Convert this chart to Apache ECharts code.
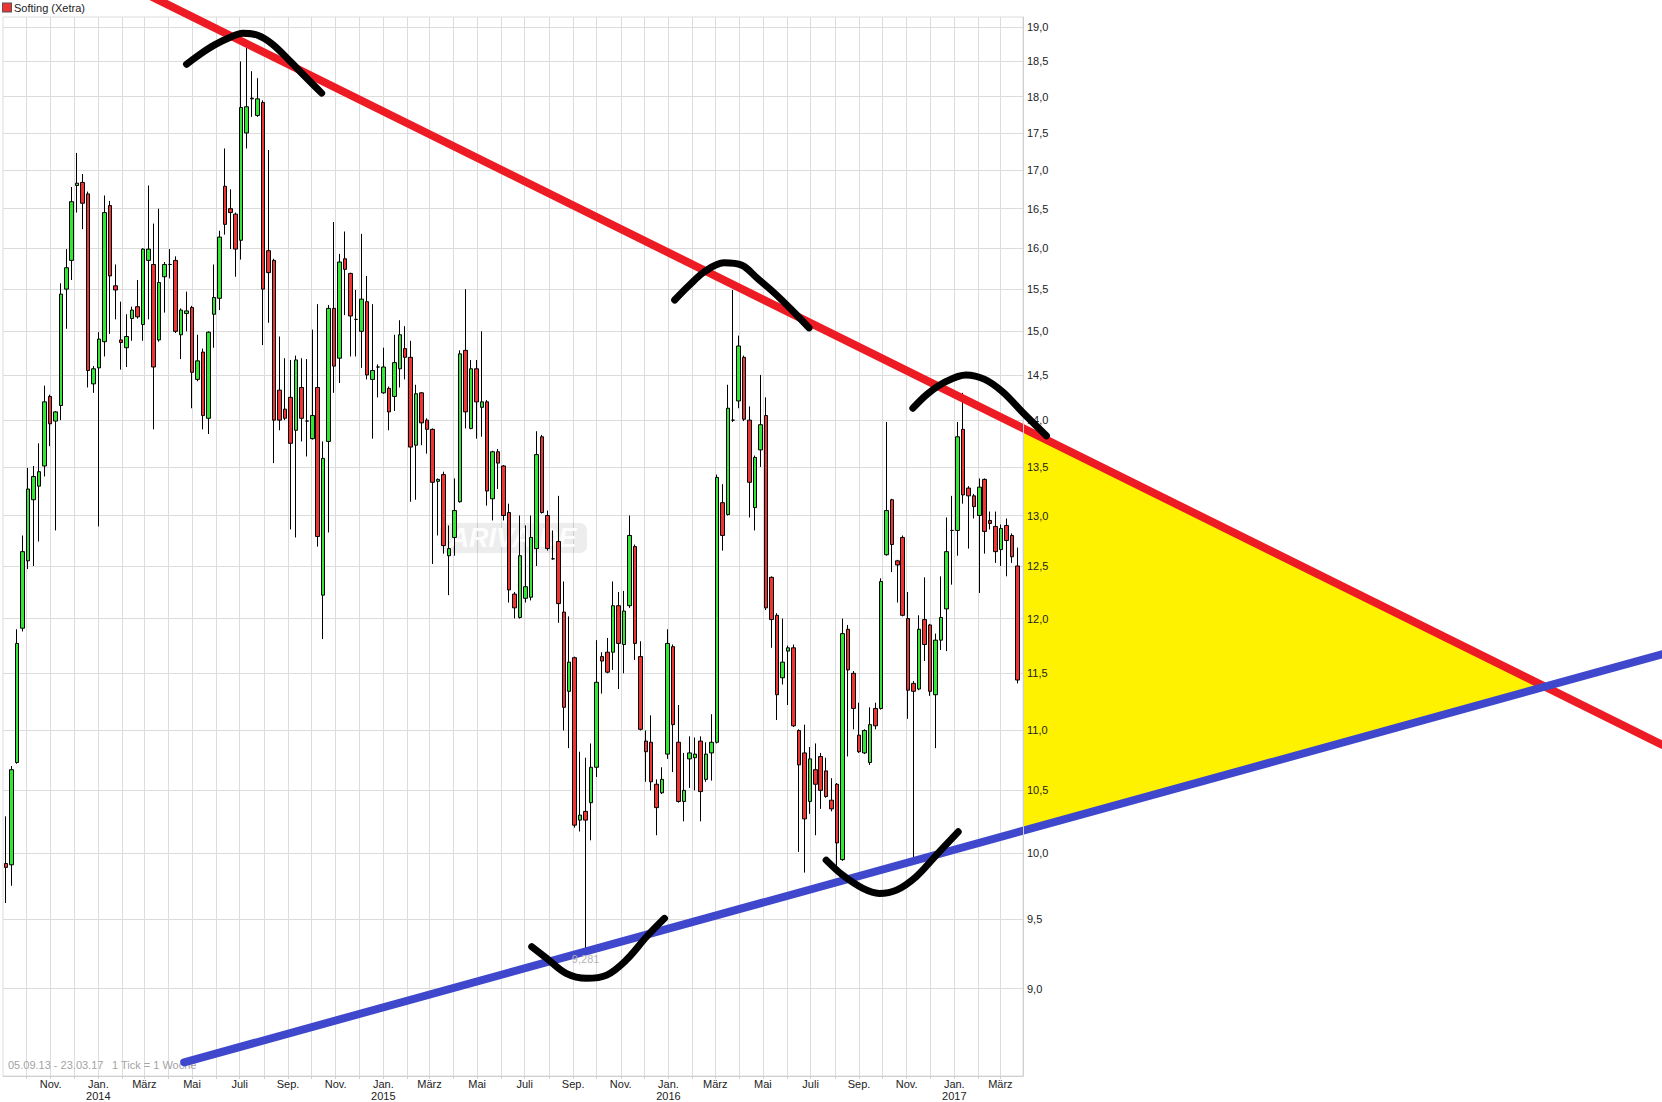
<!DOCTYPE html>
<html><head><meta charset="utf-8">
<script src="https://cdn.jsdelivr.net/npm/echarts@6/dist/echarts.min.js"></script>
<style>html,body{margin:0;padding:0;background:#fff}#c{width:1662px;height:1102px}</style>
</head><body><div id="c"></div>
<script>
// ---- weekly candle dates (1 Tick = 1 Woche) ----
const weekDates = [
'2013-09-05','2013-09-12','2013-09-19','2013-09-26','2013-10-03','2013-10-10','2013-10-17','2013-10-24','2013-10-31','2013-11-07','2013-11-14','2013-11-21','2013-11-28','2013-12-05','2013-12-12','2013-12-19','2013-12-26',
'2014-01-02','2014-01-09','2014-01-16','2014-01-23','2014-01-30','2014-02-06','2014-02-13','2014-02-20','2014-02-27','2014-03-06','2014-03-13','2014-03-20','2014-03-27','2014-04-03','2014-04-10','2014-04-17','2014-04-24','2014-05-01','2014-05-08','2014-05-15','2014-05-22','2014-05-29','2014-06-05','2014-06-12','2014-06-19','2014-06-26','2014-07-03','2014-07-10','2014-07-17','2014-07-24','2014-07-31','2014-08-07','2014-08-14','2014-08-21','2014-08-28','2014-09-04','2014-09-11','2014-09-18','2014-09-25','2014-10-02','2014-10-09','2014-10-16','2014-10-23','2014-10-30','2014-11-06','2014-11-13','2014-11-20','2014-11-27','2014-12-04','2014-12-11','2014-12-18','2014-12-25',
'2015-01-01','2015-01-08','2015-01-15','2015-01-22','2015-01-29','2015-02-05','2015-02-12','2015-02-19','2015-02-26','2015-03-05','2015-03-12','2015-03-19','2015-03-26','2015-04-02','2015-04-09','2015-04-16','2015-04-23','2015-04-30','2015-05-07','2015-05-14','2015-05-21','2015-05-28','2015-06-04','2015-06-11','2015-06-18','2015-06-25','2015-07-02','2015-07-09','2015-07-16','2015-07-23','2015-07-30','2015-08-06','2015-08-13','2015-08-20','2015-08-27','2015-09-03','2015-09-10','2015-09-17','2015-09-24','2015-10-01','2015-10-08','2015-10-15','2015-10-22','2015-10-29','2015-11-05','2015-11-12','2015-11-19','2015-11-26','2015-12-03','2015-12-10','2015-12-17','2015-12-24','2015-12-31',
'2016-01-07','2016-01-14','2016-01-21','2016-01-28','2016-02-04','2016-02-11','2016-02-18','2016-02-25','2016-03-03','2016-03-10','2016-03-17','2016-03-24','2016-03-31','2016-04-07','2016-04-14','2016-04-21','2016-04-28','2016-05-05','2016-05-12','2016-05-19','2016-05-26','2016-06-02','2016-06-09','2016-06-16','2016-06-23','2016-06-30','2016-07-07','2016-07-14','2016-07-21','2016-07-28','2016-08-04','2016-08-11','2016-08-18','2016-08-25','2016-09-01','2016-09-08','2016-09-15','2016-09-22','2016-09-29','2016-10-06','2016-10-13','2016-10-20','2016-10-27','2016-11-03','2016-11-10','2016-11-17','2016-11-24','2016-12-01','2016-12-08','2016-12-15','2016-12-22','2016-12-29',
'2017-01-05','2017-01-12','2017-01-19','2017-01-26','2017-02-02','2017-02-09','2017-02-16','2017-02-23','2017-03-02','2017-03-09','2017-03-16','2017-03-23'];

const openP = [
9.92,9.91,10.73,11.91,12.55,13.16,13.30,13.51,14.26,13.99,
14.16,15.50,15.85,16.80,16.84,16.69,14.40,14.58,14.88,16.54,
15.54,14.90,14.81,15.15,15.29,15.08,15.85,15.80,14.90,15.65,
15.80,15.85,14.96,15.21,15.28,14.45,14.76,14.02,15.20,15.39,
16.79,16.50,16.43,16.10,17.50,17.98,17.74,17.92,15.97,15.85,
14.33,14.12,14.25,13.89,14.36,13.99,13.80,14.36,12.22,13.77,
15.27,14.69,15.87,15.69,15.14,15.00,15.35,14.45,14.59,14.30,
14.35,14.26,14.57,14.80,14.70,13.73,14.30,14.00,13.90,13.35,
13.42,12.60,12.78,13.14,14.78,13.91,14.57,14.14,14.20,13.17,
13.66,13.51,13.03,12.23,12.01,12.19,12.20,12.67,13.82,13.00,
12.57,12.74,12.06,11.34,11.64,10.26,10.33,10.40,10.69,11.65,
11.69,11.69,12.12,11.76,12.12,12.69,11.65,10.91,10.90,10.55,
10.48,10.80,11.74,10.90,10.41,10.76,10.77,10.91,10.59,10.81,
10.90,13.13,13.01,14.00,14.21,14.70,14.00,13.08,13.68,14.05,
12.39,12.03,11.46,11.70,11.73,11.00,10.81,10.41,10.67,10.78,
10.66,10.42,10.55,9.95,11.90,11.50,10.96,10.81,10.73,11.19,
11.19,12.61,13.16,12.55,12.78,12.00,11.41,11.36,11.99,11.94,
11.31,11.80,12.09,12.85,12.85,13.90,13.28,13.20,13.00,13.37,
12.95,12.89,12.66,12.90,12.80,12.50];

const closeP = [
9.89,10.67,11.77,12.64,13.27,13.40,13.45,14.20,13.96,14.09,
15.44,15.76,16.59,16.83,16.57,14.55,14.57,14.91,16.45,15.66,
15.49,14.87,14.94,15.25,15.17,15.99,15.99,14.59,15.58,15.80,
15.80,15.00,15.25,15.24,14.53,14.66,14.05,14.99,15.40,16.14,
16.30,16.45,15.99,17.85,17.86,17.97,17.97,15.50,15.70,14.00,
14.00,14.02,13.75,14.67,14.02,13.99,14.05,12.79,13.59,15.27,
14.60,15.83,15.74,15.18,15.14,15.38,14.50,14.55,14.59,14.59,
14.09,14.64,14.96,14.70,13.71,14.29,13.97,13.90,13.34,13.37,
12.70,12.67,13.05,14.74,14.09,14.57,14.20,14.20,13.25,13.66,
13.54,13.00,12.27,12.10,12.60,12.30,12.78,13.63,13.03,12.67,
12.57,12.14,11.20,11.60,10.22,10.30,10.26,10.69,11.42,11.61,
11.51,12.12,11.77,12.07,12.80,11.77,11.01,10.82,10.57,10.36,
10.59,11.77,11.05,10.41,10.50,10.81,10.80,10.49,10.80,10.90,
13.39,12.80,14.13,14.00,14.83,14.01,13.34,13.60,13.95,12.10,
11.99,11.31,11.60,11.73,11.04,10.71,10.27,10.76,10.55,10.50,
10.45,10.35,10.08,11.86,11.53,11.19,10.82,11.00,11.05,11.04,
12.35,13.05,12.71,12.51,12.03,11.35,11.34,11.90,11.76,11.34,
11.80,12.01,12.64,12.85,13.82,13.21,13.20,13.09,13.29,12.84,
12.92,12.64,12.87,12.75,12.59,11.44];

const lowP = [
9.62,9.75,10.72,11.88,12.47,12.50,12.74,13.40,13.72,12.85,
14.00,15.03,15.61,16.45,16.24,14.36,14.30,12.89,14.71,14.97,
15.14,14.56,14.59,14.89,15.15,14.89,15.14,13.90,14.88,15.22,
15.63,14.98,14.68,15.00,14.13,14.43,13.90,13.85,14.81,15.25,
16.17,15.99,15.65,15.86,17.29,17.72,17.72,14.84,15.10,13.54,
13.89,14.00,12.86,12.78,13.77,13.61,13.79,12.69,11.81,12.83,
14.30,14.41,15.19,14.71,14.71,14.58,14.45,13.80,14.25,14.29,
13.89,14.10,14.36,14.45,13.14,13.16,13.73,13.64,12.52,12.80,
12.62,12.22,12.60,13.13,13.91,13.90,13.80,13.82,13.10,12.95,
13.27,12.95,12.15,12.00,12.00,12.15,12.17,12.50,13.02,12.65,
12.56,11.96,11.00,10.85,10.20,10.17,9.281,10.10,10.61,11.32,
11.50,11.53,11.36,11.50,12.10,11.62,11.00,10.57,10.50,10.14,
10.47,10.76,10.65,10.40,10.25,10.52,10.50,10.25,10.57,10.58,
10.89,12.65,13.00,13.98,14.13,13.99,12.98,12.85,13.50,12.08,
11.73,11.09,11.40,11.22,11.03,10.01,9.85,10.31,10.14,10.35,
10.44,10.33,9.88,9.94,10.78,11.01,10.81,10.80,10.71,11.01,
11.18,12.60,12.44,12.15,12.02,11.10,9.95,11.35,11.61,11.30,
10.85,11.71,11.70,12.32,12.60,13.12,12.67,12.97,12.24,12.62,
12.86,12.53,12.50,12.40,12.53,11.41];

const highP = [
10.29,10.70,11.90,12.80,13.49,13.51,13.75,14.38,14.28,14.10,
15.57,15.99,16.78,17.23,16.95,16.72,14.60,14.99,16.67,16.60,
15.80,15.35,15.20,15.29,15.61,16.00,16.80,16.31,16.50,15.83,
15.99,15.90,15.27,15.47,15.30,14.96,14.80,15.00,15.80,16.22,
17.29,16.75,16.45,18.50,18.70,18.36,18.26,17.95,17.27,15.87,
14.94,14.69,14.67,14.72,14.69,14.68,15.02,15.32,13.77,15.31,
16.33,15.93,16.21,15.70,15.49,16.18,15.66,15.32,14.62,14.81,
14.37,14.96,15.13,15.06,14.89,14.39,14.31,14.02,13.91,13.38,
13.45,12.90,13.38,14.78,15.50,14.67,14.67,15.00,14.22,13.67,
13.69,13.52,13.12,12.25,13.00,12.90,13.00,13.88,13.84,13.05,
12.85,13.20,12.35,12.02,11.65,10.82,10.77,10.89,11.80,11.69,
11.82,12.35,12.25,12.26,13.00,12.71,11.79,11.00,11.13,10.59,
10.69,11.90,11.76,11.22,10.81,10.95,10.94,10.95,10.90,11.14,
13.42,13.32,14.39,15.49,14.95,14.72,14.15,13.62,14.50,14.25,
12.40,12.05,12.00,11.75,11.76,11.01,11.05,10.86,10.89,10.81,
10.77,10.60,10.56,12.00,11.94,11.52,11.24,11.01,11.20,11.24,
12.38,13.98,13.17,12.56,12.80,12.25,11.43,12.03,12.39,11.95,
11.86,12.40,12.98,13.20,13.98,14.30,13.30,13.22,13.38,13.38,
13.04,13.04,12.91,12.97,12.82,12.68];

// ---- axes ----
const xRange = ['2013-09-01', '2017-03-30'];
const yRange = [8.41, 19.15];
const yTickValues = [9.0, 9.5, 10.0, 10.5, 11.0, 11.5, 12.0, 12.5, 13.0, 13.5, 14.0, 14.5, 15.0, 15.5, 16.0, 16.5, 17.0, 17.5, 18.0, 18.5, 19.0];
const gridMonths = ['2013-10-01','2013-11-01','2013-12-01',
'2014-01-01','2014-02-01','2014-03-01','2014-04-01','2014-05-01','2014-06-01','2014-07-01','2014-08-01','2014-09-01','2014-10-01','2014-11-01','2014-12-01',
'2015-01-01','2015-02-01','2015-03-01','2015-04-01','2015-05-01','2015-06-01','2015-07-01','2015-08-01','2015-09-01','2015-10-01','2015-11-01','2015-12-01',
'2016-01-01','2016-02-01','2016-03-01','2016-04-01','2016-05-01','2016-06-01','2016-07-01','2016-08-01','2016-09-01','2016-10-01','2016-11-01','2016-12-01',
'2017-01-01','2017-02-01','2017-03-01'];
const labelMonths = ['2013-11-01','2014-01-01','2014-03-01','2014-05-01','2014-07-01','2014-09-01','2014-11-01','2015-01-01','2015-03-01','2015-05-01','2015-07-01','2015-09-01','2015-11-01','2016-01-01','2016-03-01','2016-05-01','2016-07-01','2016-09-01','2016-11-01','2017-01-01','2017-03-01'];
const monthNames = ['Jan.','Feb.','März','Apr.','Mai','Juni','Juli','Aug.','Sep.','Okt.','Nov.','Dez.'];

// ---- hand-drawn annotations (date, price) ----
const resistanceLine = [['2014-01-26', 19.71], ['2019-06-26', 10.88]];
const supportLine = [['2014-04-21', 8.50], ['2019-06-26', 11.67]];
const arcA = [['2014-04-24',18.46],['2014-05-12',18.61],['2014-05-30',18.74],['2014-06-17',18.84],['2014-07-05',18.91],['2014-07-24',18.88],['2014-08-12',18.75],['2014-09-03',18.51],['2014-09-24',18.27],['2014-10-14',18.05]];
const arcB = [['2016-01-09',15.37],['2016-01-28',15.55],['2016-02-16',15.71],['2016-03-12',15.82],['2016-04-04',15.79],['2016-04-24',15.63],['2016-05-16',15.45],['2016-06-07',15.25],['2016-06-29',15.04]];
const arcC = [['2016-11-09',14.13],['2016-11-28',14.29],['2016-12-20',14.42],['2017-01-16',14.50],['2017-02-09',14.45],['2017-03-04',14.31],['2017-03-30',14.08],['2017-04-29',13.83]];
const arcD = [['2015-07-10',9.299],['2015-07-29',9.215],['2015-08-23',9.108],['2015-09-18',9.073],['2015-10-14',9.096],['2015-11-08',9.203],['2015-12-04',9.371],['2015-12-27',9.506]];
const arcE = [['2016-07-21',9.946],['2016-08-11',9.831],['2016-09-06',9.730],['2016-09-27',9.692],['2016-10-19',9.717],['2016-11-13',9.818],['2016-12-09',9.985],['2017-01-06',10.167]];

// ---------------------------------------------------------------
const FONT = '"Liberation Sans", Arial, Helvetica, sans-serif';
const W = 1662, GL = 3, GR = 639;            // plot grid: left / right offsets
const toT = s => Date.parse(s);
const pts = arr => arr.map(p => [toT(p[0]), p[1]]);
const xMin = toT(xRange[0]), xMax = toT(xRange[1]);
// overlay grid spans the whole width with the same time scale (drawing layer)
const xMaxOverlay = xMin + (xMax - xMin) * (W - GL) / (W - GL - GR);
const candleData = weekDates.map((d, i) => [toT(d), openP[i], closeP[i], lowP[i], highP[i]]);
let lowIdx = 0;
lowP.forEach((v, i) => { if (v < lowP[lowIdx]) lowIdx = i; });
const fmtDate = s => { const [y, m, d] = s.split('-'); return d + '.' + m + '.' + y.slice(2); };

const OV = { xAxisIndex: 1, yAxisIndex: 2 };
const arcSeries = [arcA, arcB, arcC, arcD, arcE].map((a, k) => Object.assign({
  type: 'line', name: 'arc' + k, data: pts(a), smooth: 0.35, symbol: 'none', clip: false, silent: true,
  lineStyle: { color: '#000', width: 7, cap: 'round', join: 'round' }, z: 7
}, OV));

const chart = echarts.init(document.getElementById('c'), null, { renderer: 'svg' });
chart.setOption({
  animation: false,
  backgroundColor: '#ffffff',
  title: {
    left: 3, top: 1, padding: 0,
    text: '{sq|}{t|Softing (Xetra)}',
    textStyle: {
      fontWeight: 'normal',
      rich: {
        sq: { width: 8, height: 8, backgroundColor: '#ee3333', borderColor: '#555', borderWidth: 1 },
        t: { fontSize: 11, color: '#222', fontFamily: FONT, fontWeight: 'normal', padding: [0, 0, 0, 3], lineHeight: 13 }
      }
    }
  },
  grid: [
    { left: GL, right: GR, top: 17, bottom: 26, show: true, borderColor: '#dcdcdc', borderWidth: 1 },
    { left: GL, right: 0, top: 17, bottom: 26, show: false }
  ],
  xAxis: [{
    type: 'value', min: xMin, max: xMax, gridIndex: 0,
    axisLine: { show: true, lineStyle: { color: '#cfcfcf' } },
    axisTick: { show: true, length: 3, lineStyle: { color: '#cfcfcf' }, customValues: gridMonths.map(toT) },
    axisLabel: {
      customValues: labelMonths.map(toT), color: '#222', fontSize: 11, fontFamily: FONT, lineHeight: 12, margin: 2,
      formatter: v => { const d = new Date(v); const m = d.getUTCMonth(); return m === 0 ? monthNames[0] + '\n' + d.getUTCFullYear() : monthNames[m]; }
    },
    splitLine: { show: true, lineStyle: { color: '#dcdcdc', width: 1 } }
  }, {
    type: 'value', min: xMin, max: xMaxOverlay, gridIndex: 1, show: false, splitLine: { show: false }
  }],
  yAxis: [
    {
      type: 'log', logBase: 10, min: yRange[0], max: yRange[1], position: 'right', gridIndex: 0,
      axisLine: { show: false }, axisTick: { show: false, customValues: yTickValues },
      axisLabel: { show: false, customValues: yTickValues },
      splitLine: { show: true, lineStyle: { color: '#dcdcdc', width: 1 } }
    },
    {
      type: 'log', logBase: 10, min: yRange[0], max: yRange[1], position: 'right', z: 5, gridIndex: 0,
      axisLine: { show: true, lineStyle: { color: '#cfcfcf' } }, axisTick: { show: false, customValues: yTickValues },
      axisLabel: { customValues: yTickValues, color: '#222', fontSize: 11, fontFamily: FONT, margin: 4,
        formatter: v => v.toFixed(1).replace('.', ',') },
      splitLine: { show: false }
    },
    {
      type: 'log', logBase: 10, min: yRange[0], max: yRange[1], gridIndex: 1, show: false, splitLine: { show: false }
    }
  ],
  graphic: [
    { type: 'rect', z: 1, silent: true, shape: { x: 440, y: 523, width: 147, height: 30, r: 7 }, style: { fill: 'rgba(0,0,0,0.07)' } },
    { type: 'text', z: 1, silent: true, x: 513, y: 538, style: { text: 'ARIVA.DE', fill: 'rgba(255,255,255,0.95)', font: 'italic bold 27px ' + FONT, align: 'center', verticalAlign: 'middle' } },
    { type: 'text', z: 1, silent: true, x: 8, y: 1059, style: { text: fmtDate(weekDates[0]) + ' - ' + fmtDate(weekDates[weekDates.length - 1]), fill: '#a3a3a3', font: '11px ' + FONT } },
    { type: 'text', z: 1, silent: true, x: 112, y: 1059, style: { text: '1 Tick = 1 Woche', fill: '#a3a3a3', font: '11px ' + FONT } }
  ],
  series: [
    {
      type: 'candlestick', name: 'Softing (Xetra)', data: candleData, encode: { x: 0, y: [1, 2, 3, 4] },
      xAxisIndex: 0, yAxisIndex: 0,
      barWidth: 4, z: 2,
      itemStyle: { color: '#33e633', color0: '#ee3333', borderColor: '#000', borderColor0: '#000', borderWidth: 1 },
      markPoint: {
        symbol: 'circle', symbolSize: 0, silent: true,
        label: { show: true, position: 'bottom', distance: 4, color: '#b4b4b4', fontSize: 11, fontFamily: FONT,
          formatter: () => lowP[lowIdx].toFixed(3).replace('.', ',') },
        data: [{ coord: [toT(weekDates[lowIdx]), lowP[lowIdx]] }]
      }
    },
    Object.assign({
      type: 'custom', name: 'triangle', silent: true, z: 3, clip: false,
      data: [[xMax, yRange[0]]],
      renderItem: (params, api) => {
        const r0 = api.coord(pts(resistanceLine)[0]), r1 = api.coord(pts(resistanceLine)[1]);
        const s0 = api.coord(pts(supportLine)[0]), s1 = api.coord(pts(supportLine)[1]);
        const xr = api.coord([xMax, yRange[0]])[0];
        const m1 = (r1[1] - r0[1]) / (r1[0] - r0[0]);
        const m2 = (s1[1] - s0[1]) / (s1[0] - s0[0]);
        const xi = (s0[1] - r0[1] + m1 * r0[0] - m2 * s0[0]) / (m1 - m2);
        const yi = r0[1] + m1 * (xi - r0[0]);
        return {
          type: 'polygon',
          shape: { points: [[xr, r0[1] + m1 * (xr - r0[0])], [xi, yi], [xr, s0[1] + m2 * (xr - s0[0])]] },
          style: { fill: '#fff200' }
        };
      }
    }, OV),
    Object.assign({
      type: 'line', name: 'Widerstand', data: pts(resistanceLine), symbol: 'none', clip: false, silent: true, z: 4,
      lineStyle: { color: '#ed1c24', width: 8, cap: 'round' }
    }, OV),
    Object.assign({
      type: 'line', name: 'Unterstützung', data: pts(supportLine), symbol: 'none', clip: false, silent: true, z: 4,
      lineStyle: { color: '#3f48cc', width: 8, cap: 'round' }
    }, OV),
    ...arcSeries
  ]
});
</script></body></html>
